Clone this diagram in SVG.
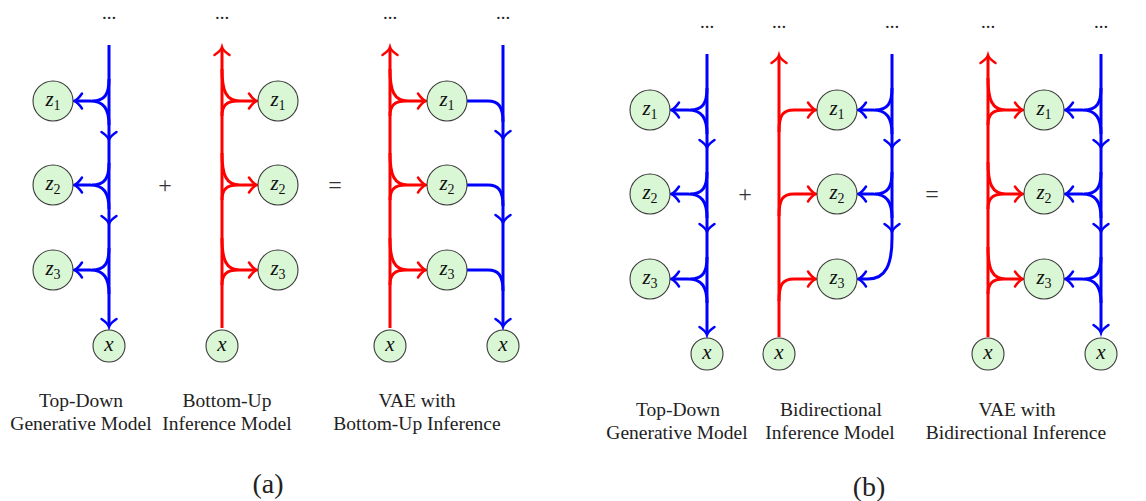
<svg xmlns="http://www.w3.org/2000/svg" xmlns:xlink="http://www.w3.org/1999/xlink" width="1146" height="501" viewBox="0 0 1146 501">
<style>
.b{stroke:#0000ff;fill:none;stroke-width:3}
.r{stroke:#ff0000;fill:none;stroke-width:3}
.hb{stroke:#0000ff;fill:none;stroke-width:2.5;stroke-linecap:round}
.hr{stroke:#ff0000;fill:none;stroke-width:2.5;stroke-linecap:round}
.n{fill:#d9f7d5;stroke:#3a3a3a;stroke-width:1.1}
.zl{font-family:"Liberation Serif",serif;font-size:21px;fill:#111}
.zi{font-style:italic}
.sub{font-size:14px}
.t{font-family:"Liberation Serif",serif;font-size:19.5px;fill:#222;text-anchor:middle}
.dots{font-family:"Liberation Serif",serif;font-size:19px;fill:#222;text-anchor:middle}
.op{font-family:"Liberation Serif",serif;font-size:24px;fill:#333;text-anchor:middle}
.cap{font-family:"Liberation Serif",serif;font-size:28px;fill:#222;text-anchor:middle}
</style>
<defs>
<path id="ah" d="M-8 -7.5 C-5 -3 -2 -0.6 0 0 C-2 0.6 -5 3 -8 7.5"/>
</defs>

<g id="connectors">
<!-- A1 top-down -->
<g id="a1-edges">
<path class="b" d="M109 45 V325"/>
<path class="b" d="M109 79 C109 94 105 101 92 101 M109 125 C109 109 104 101 90 101 M91 101 H75"/>
<path class="b" d="M109 163 C109 178 105 185 92 185 M109 209 C109 193 104 185 90 185 M91 185 H75"/>
<path class="b" d="M109 248 C109 263 105 270 92 270 M109 294 C109 278 104 270 90 270 M91 270 H75"/>
<use xlink:href="#ah" class="hb" transform="translate(74,101) rotate(180)"/>
<use xlink:href="#ah" class="hb" transform="translate(74,185) rotate(180)"/>
<use xlink:href="#ah" class="hb" transform="translate(74,270) rotate(180)"/>
<use xlink:href="#ah" class="hb" transform="translate(109,140) rotate(90)"/>
<use xlink:href="#ah" class="hb" transform="translate(109,224) rotate(90)"/>
<use xlink:href="#ah" class="hb" transform="translate(109,327) rotate(90)"/>
</g>
<!-- A2 bottom-up -->
<g id="a2-edges">
<path class="r" d="M222 328 V49"/>
<path class="r" d="M222 69 C222 91 226 101 240 101 M222 116 C222 106 226 101 238 101 M239 101 H256"/>
<path class="r" d="M222 153 C222 175 226 185 240 185 M222 200 C222 190 226 185 238 185 M239 185 H256"/>
<path class="r" d="M222 238 C222 260 226 270 240 270 M222 285 C222 275 226 270 238 270 M239 270 H256"/>
<use xlink:href="#ah" class="hr" transform="translate(257,101)"/>
<use xlink:href="#ah" class="hr" transform="translate(257,185)"/>
<use xlink:href="#ah" class="hr" transform="translate(257,270)"/>
<use xlink:href="#ah" class="hr" transform="translate(222,47) rotate(-90)"/>
</g>
<!-- A3 VAE bottom-up -->
<g id="a3-edges">
<path class="r" d="M390 328 V49"/>
<path class="r" d="M390 69 C390 91 394 101 408 101 M390 116 C390 106 394 101 406 101 M407 101 H425"/>
<path class="r" d="M390 153 C390 175 394 185 408 185 M390 200 C390 190 394 185 406 185 M407 185 H425"/>
<path class="r" d="M390 238 C390 260 394 270 408 270 M390 285 C390 275 394 270 406 270 M407 270 H425"/>
<use xlink:href="#ah" class="hr" transform="translate(426,101)"/>
<use xlink:href="#ah" class="hr" transform="translate(426,185)"/>
<use xlink:href="#ah" class="hr" transform="translate(426,270)"/>
<use xlink:href="#ah" class="hr" transform="translate(390,47) rotate(-90)"/>
<path class="b" d="M503 45 V325"/>
<path class="b" d="M467 101 H488 C498 101 503 106 503 122"/>
<path class="b" d="M467 185 H488 C498 185 503 190 503 206"/>
<path class="b" d="M467 270 H488 C498 270 503 275 503 291"/>
<use xlink:href="#ah" class="hb" transform="translate(503,139) rotate(90)"/>
<use xlink:href="#ah" class="hb" transform="translate(503,223) rotate(90)"/>
<use xlink:href="#ah" class="hb" transform="translate(503,327) rotate(90)"/>
</g>
<!-- B1 top-down -->
<g id="b1-edges">
<path class="b" d="M707 54 V333"/>
<path class="b" d="M707 88 C707 103 703 110 690 110 M707 134 C707 118 702 110 688 110 M689 110 H672"/>
<path class="b" d="M707 172 C707 187 703 194 690 194 M707 218 C707 202 702 194 688 194 M689 194 H672"/>
<path class="b" d="M707 257 C707 272 703 279 690 279 M707 303 C707 287 702 279 688 279 M689 279 H672"/>
<use xlink:href="#ah" class="hb" transform="translate(671,110) rotate(180)"/>
<use xlink:href="#ah" class="hb" transform="translate(671,194) rotate(180)"/>
<use xlink:href="#ah" class="hb" transform="translate(671,279) rotate(180)"/>
<use xlink:href="#ah" class="hb" transform="translate(707,148) rotate(90)"/>
<use xlink:href="#ah" class="hb" transform="translate(707,232) rotate(90)"/>
<use xlink:href="#ah" class="hb" transform="translate(707,335) rotate(90)"/>
</g>
<!-- B2 bidirectional inference -->
<g id="b2-edges">
<path class="r" d="M779 337 V57"/>
<path class="r" d="M779 132 C779 116 782 110 794 110 H815"/>
<path class="r" d="M779 216 C779 200 782 194 794 194 H815"/>
<path class="r" d="M779 301 C779 285 782 279 794 279 H815"/>
<use xlink:href="#ah" class="hr" transform="translate(816,110)"/>
<use xlink:href="#ah" class="hr" transform="translate(816,194)"/>
<use xlink:href="#ah" class="hr" transform="translate(816,279)"/>
<use xlink:href="#ah" class="hr" transform="translate(779,55) rotate(-90)"/>
<path class="b" d="M892 54 V238 C892 264 886 279 868 279 H859"/>
<path class="b" d="M892 88 C892 103 888 110 875 110 M892 134 C892 118 887 110 873 110 M874 110 H859"/>
<path class="b" d="M892 172 C892 187 888 194 875 194 M892 218 C892 202 887 194 873 194 M874 194 H859"/>
<use xlink:href="#ah" class="hb" transform="translate(858,110) rotate(180)"/>
<use xlink:href="#ah" class="hb" transform="translate(858,194) rotate(180)"/>
<use xlink:href="#ah" class="hb" transform="translate(858,279) rotate(180)"/>
<use xlink:href="#ah" class="hb" transform="translate(892,148) rotate(90)"/>
<use xlink:href="#ah" class="hb" transform="translate(892,232) rotate(90)"/>
</g>
<!-- B3 VAE bidirectional -->
<g id="b3-edges">
<path class="r" d="M988 337 V57"/>
<path class="r" d="M988 78 C988 100 992 110 1006 110 M988 125 C988 115 992 110 1004 110 M1005 110 H1022"/>
<path class="r" d="M988 162 C988 184 992 194 1006 194 M988 209 C988 199 992 194 1004 194 M1005 194 H1022"/>
<path class="r" d="M988 247 C988 269 992 279 1006 279 M988 294 C988 284 992 279 1004 279 M1005 279 H1022"/>
<use xlink:href="#ah" class="hr" transform="translate(1023,110)"/>
<use xlink:href="#ah" class="hr" transform="translate(1023,194)"/>
<use xlink:href="#ah" class="hr" transform="translate(1023,279)"/>
<use xlink:href="#ah" class="hr" transform="translate(988,55) rotate(-90)"/>
<path class="b" d="M1101 54 V331"/>
<path class="b" d="M1101 88 C1101 103 1097 110 1084 110 M1101 134 C1101 118 1096 110 1082 110 M1083 110 H1066"/>
<path class="b" d="M1101 172 C1101 187 1097 194 1084 194 M1101 218 C1101 202 1096 194 1082 194 M1083 194 H1066"/>
<path class="b" d="M1101 257 C1101 272 1097 279 1084 279 M1101 303 C1101 287 1096 279 1082 279 M1083 279 H1066"/>
<use xlink:href="#ah" class="hb" transform="translate(1065,110) rotate(180)"/>
<use xlink:href="#ah" class="hb" transform="translate(1065,194) rotate(180)"/>
<use xlink:href="#ah" class="hb" transform="translate(1065,279) rotate(180)"/>
<use xlink:href="#ah" class="hb" transform="translate(1101,148) rotate(90)"/>
<use xlink:href="#ah" class="hb" transform="translate(1101,232) rotate(90)"/>
<use xlink:href="#ah" class="hb" transform="translate(1101,333) rotate(90)"/>
</g>
</g>

<!-- A1 nodes -->
<g id="a1-z1"><circle class="n" cx="53" cy="101" r="20"/><text class="zl" x="53" y="106" text-anchor="middle"><tspan class="zi">z</tspan><tspan class="sub" dy="4">1</tspan></text></g>
<g id="a1-z2"><circle class="n" cx="53" cy="185" r="20"/><text class="zl" x="53" y="190" text-anchor="middle"><tspan class="zi">z</tspan><tspan class="sub" dy="4">2</tspan></text></g>
<g id="a1-z3"><circle class="n" cx="53" cy="270" r="20"/><text class="zl" x="53" y="275" text-anchor="middle"><tspan class="zi">z</tspan><tspan class="sub" dy="4">3</tspan></text></g>
<g id="a1-x"><circle class="n" cx="109" cy="346" r="16"/><text class="zl zi" x="109" y="351" text-anchor="middle">x</text></g>
<g id="a1-top"><text class="dots" x="109" y="19">...</text></g>

<!-- A2 nodes -->
<g id="a2-z1"><circle class="n" cx="278" cy="101" r="20"/><text class="zl" x="278" y="106" text-anchor="middle"><tspan class="zi">z</tspan><tspan class="sub" dy="4">1</tspan></text></g>
<g id="a2-z2"><circle class="n" cx="278" cy="185" r="20"/><text class="zl" x="278" y="190" text-anchor="middle"><tspan class="zi">z</tspan><tspan class="sub" dy="4">2</tspan></text></g>
<g id="a2-z3"><circle class="n" cx="278" cy="270" r="20"/><text class="zl" x="278" y="275" text-anchor="middle"><tspan class="zi">z</tspan><tspan class="sub" dy="4">3</tspan></text></g>
<g id="a2-x"><circle class="n" cx="222" cy="346" r="16"/><text class="zl zi" x="222" y="351" text-anchor="middle">x</text></g>
<g id="a2-top"><text class="dots" x="222" y="19">...</text></g>

<!-- A3 nodes -->
<g id="a3-z1"><circle class="n" cx="447" cy="101" r="20"/><text class="zl" x="447" y="106" text-anchor="middle"><tspan class="zi">z</tspan><tspan class="sub" dy="4">1</tspan></text></g>
<g id="a3-z2"><circle class="n" cx="447" cy="185" r="20"/><text class="zl" x="447" y="190" text-anchor="middle"><tspan class="zi">z</tspan><tspan class="sub" dy="4">2</tspan></text></g>
<g id="a3-z3"><circle class="n" cx="447" cy="270" r="20"/><text class="zl" x="447" y="275" text-anchor="middle"><tspan class="zi">z</tspan><tspan class="sub" dy="4">3</tspan></text></g>
<g id="a3-xr"><circle class="n" cx="390" cy="346" r="16"/><text class="zl zi" x="390" y="351" text-anchor="middle">x</text></g>
<g id="a3-xb"><circle class="n" cx="503" cy="346" r="16"/><text class="zl zi" x="503" y="351" text-anchor="middle">x</text></g>
<g id="a3-top"><text class="dots" x="390" y="19">...</text><text class="dots" x="503" y="19">...</text></g>

<!-- B1 nodes -->
<g id="b1-z1"><circle class="n" cx="650" cy="110" r="20"/><text class="zl" x="650" y="115" text-anchor="middle"><tspan class="zi">z</tspan><tspan class="sub" dy="4">1</tspan></text></g>
<g id="b1-z2"><circle class="n" cx="650" cy="194" r="20"/><text class="zl" x="650" y="199" text-anchor="middle"><tspan class="zi">z</tspan><tspan class="sub" dy="4">2</tspan></text></g>
<g id="b1-z3"><circle class="n" cx="650" cy="279" r="20"/><text class="zl" x="650" y="284" text-anchor="middle"><tspan class="zi">z</tspan><tspan class="sub" dy="4">3</tspan></text></g>
<g id="b1-x"><circle class="n" cx="707" cy="354" r="16"/><text class="zl zi" x="707" y="359" text-anchor="middle">x</text></g>
<g id="b1-top"><text class="dots" x="707" y="28">...</text></g>

<!-- B2 nodes -->
<g id="b2-z1"><circle class="n" cx="837" cy="110" r="20"/><text class="zl" x="837" y="115" text-anchor="middle"><tspan class="zi">z</tspan><tspan class="sub" dy="4">1</tspan></text></g>
<g id="b2-z2"><circle class="n" cx="837" cy="194" r="20"/><text class="zl" x="837" y="199" text-anchor="middle"><tspan class="zi">z</tspan><tspan class="sub" dy="4">2</tspan></text></g>
<g id="b2-z3"><circle class="n" cx="837" cy="279" r="20"/><text class="zl" x="837" y="284" text-anchor="middle"><tspan class="zi">z</tspan><tspan class="sub" dy="4">3</tspan></text></g>
<g id="b2-x"><circle class="n" cx="779" cy="354" r="16"/><text class="zl zi" x="779" y="359" text-anchor="middle">x</text></g>
<g id="b2-top"><text class="dots" x="779" y="28">...</text><text class="dots" x="892" y="28">...</text></g>

<!-- B3 nodes -->
<g id="b3-z1"><circle class="n" cx="1044" cy="110" r="20"/><text class="zl" x="1044" y="115" text-anchor="middle"><tspan class="zi">z</tspan><tspan class="sub" dy="4">1</tspan></text></g>
<g id="b3-z2"><circle class="n" cx="1044" cy="194" r="20"/><text class="zl" x="1044" y="199" text-anchor="middle"><tspan class="zi">z</tspan><tspan class="sub" dy="4">2</tspan></text></g>
<g id="b3-z3"><circle class="n" cx="1044" cy="279" r="20"/><text class="zl" x="1044" y="284" text-anchor="middle"><tspan class="zi">z</tspan><tspan class="sub" dy="4">3</tspan></text></g>
<g id="b3-xr"><circle class="n" cx="988" cy="354" r="16"/><text class="zl zi" x="988" y="359" text-anchor="middle">x</text></g>
<g id="b3-xb"><circle class="n" cx="1101" cy="354" r="16"/><text class="zl zi" x="1101" y="359" text-anchor="middle">x</text></g>
<g id="b3-top"><text class="dots" x="988" y="28">...</text><text class="dots" x="1101" y="28">...</text></g>

<!-- operators -->
<g id="ops">
<text class="op" x="165" y="193">+</text>
<text class="op" x="335" y="193">=</text>
<text class="op" x="745" y="202">+</text>
<text class="op" x="932" y="202">=</text>
</g>

<!-- captions -->
<g id="labels">
<text class="t" x="81" y="407">Top-Down</text>
<text class="t" x="81" y="430">Generative Model</text>
<text class="t" x="227" y="407">Bottom-Up</text>
<text class="t" x="227" y="430">Inference Model</text>
<text class="t" x="417" y="407">VAE with</text>
<text class="t" x="417" y="430">Bottom-Up Inference</text>
<text class="cap" x="268" y="493">(a)</text>
<text class="t" x="678" y="416">Top-Down</text>
<text class="t" x="677" y="439">Generative Model</text>
<text class="t" x="831" y="416">Bidirectional</text>
<text class="t" x="830" y="439">Inference Model</text>
<text class="t" x="1017" y="416">VAE with</text>
<text class="t" x="1016" y="439">Bidirectional Inference</text>
<text class="cap" x="869" y="496">(b)</text>
</g>
</svg>
